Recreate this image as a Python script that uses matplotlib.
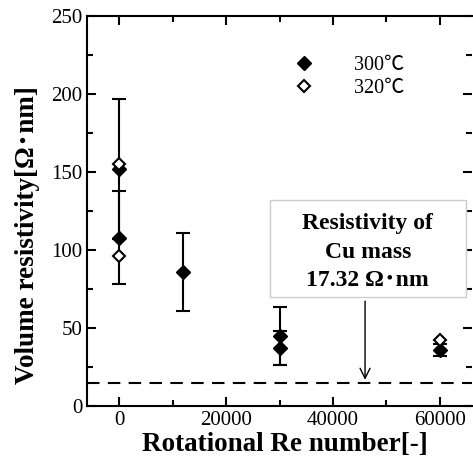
import matplotlib
matplotlib.use("Agg")
import matplotlib.pyplot as plt
from matplotlib.patches import Rectangle
from matplotlib.ticker import MultipleLocator

plt.rcParams["font.family"] = ["Liberation Serif", "Noto Sans CJK JP"]
plt.rcParams["mathtext.default"] = "regular"

# 300 C series (filled diamonds)
re_300 = [0, 0, 12000, 30000, 30000, 60000]
rho_300 = [152, 108, 86, 45, 37, 36]
err_300 = [45, 30, 25, 18.5, 11, 4]

# 320 C series (open diamonds)
re_320 = [0, 0, 60000]
rho_320 = [155, 96, 42]

cu_line = 15
arrow_x = 46000
labels = ["300\u2103", "320\u2103"]

fig = plt.figure(figsize=(4.73, 4.61), dpi=100)
ax = fig.add_axes([87 / 473, 55 / 461, 385 / 473, 390 / 461])

ax.errorbar(re_300, rho_300, yerr=err_300, fmt="none", ecolor="black",
            elinewidth=1.5, capsize=5, capthick=1.5, zorder=2)
ax.plot(re_300, rho_300, "D", color="black", markersize=7, label=labels[0], zorder=3)
ax.plot(re_320, rho_320, "D", mfc="white", mec="black", mew=1.5,
        markersize=6.5, label=labels[1], zorder=4)

ax.axhline(cu_line, color="black", lw=1.5, ls=(0, (6, 4)), zorder=1)

# annotation box with arrow down to the Cu line
ax.add_patch(Rectangle((28200, 69.6), 36600, 62.7, fc="white", ec="#cccccc", lw=1, zorder=5))
ax.annotate("", xy=(arrow_x, cu_line), xytext=(arrow_x, 69),
            arrowprops=dict(arrowstyle="->", lw=1, color="black", mutation_scale=18))
ax.text(46500, 98.5, "Resistivity of\nCu mass\n17.32 \u03a9\uff65nm",
        ha="center", va="center", fontsize=17, fontweight="bold", linespacing=1.47, zorder=6)

ax.set_xlim(-6000, 66000)
ax.set_ylim(0, 250)
ax.xaxis.set_major_locator(MultipleLocator(20000))
ax.xaxis.set_minor_locator(MultipleLocator(10000))
ax.yaxis.set_major_locator(MultipleLocator(50))
ax.yaxis.set_minor_locator(MultipleLocator(25))
ax.tick_params(which="both", direction="in", top=True, right=True, width=1.5, labelsize=15)
ax.tick_params(which="major", length=6.5)
ax.tick_params(which="minor", length=4)
for s in ["left", "bottom", "top"]:
    ax.spines[s].set_linewidth(1.5)
ax.spines["right"].set_visible(False)

ax.set_xlabel("Rotational Re number[-]", fontsize=19.5, fontweight="bold", va="center")
ax.set_ylabel("Volume resistivity[\u03a9\uff65nm]", fontsize=19.5, fontweight="bold", va="center")
ax.xaxis.set_label_coords(0.514, (406 - 444) / 390)
ax.yaxis.set_label_coords((28 - 87) / 385, 0.438)

ax.legend(loc="upper left", bbox_to_anchor=(0.49, 0.945), frameon=False, fontsize=14.5,
          handlelength=1, handletextpad=2.0, labelspacing=0.2)

fig.savefig("out.png", dpi=100)
